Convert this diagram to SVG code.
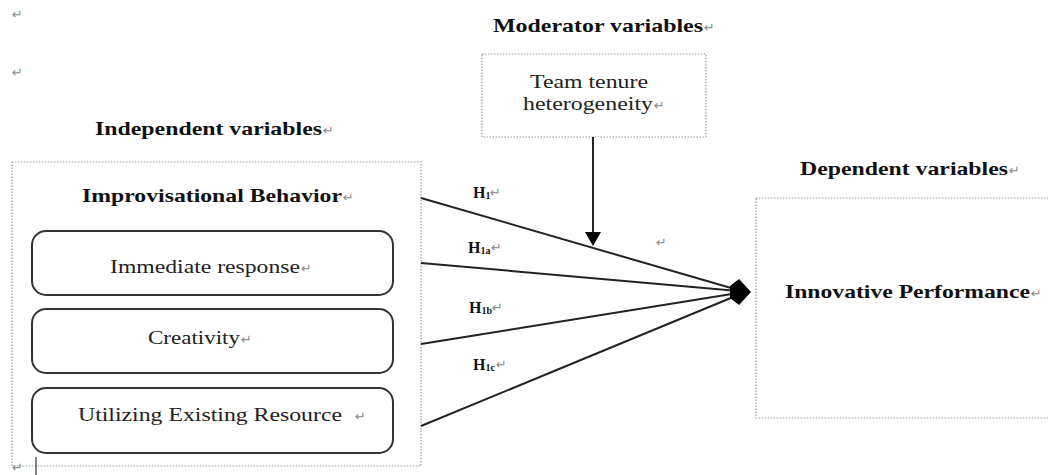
<svg xmlns="http://www.w3.org/2000/svg" width="1048" height="475" viewBox="0 0 1048 475">
<style>
.bg{fill:#fff}
.dot{fill:none;stroke:#9a9a9a;stroke-width:1.2;stroke-dasharray:1.5 1.5}
.rbox{fill:#fff;stroke:#333;stroke-width:2}
.hd{font-family:"Liberation Serif",serif;font-weight:bold;font-size:19px;fill:#111}
.tx{font-family:"Liberation Serif",serif;font-size:19px;fill:#222}
.hl{font-family:"Liberation Serif",serif;font-weight:bold;font-size:16px;fill:#111}
.sb{font-size:10px}
.pm{font-family:"DejaVu Sans",sans-serif;font-size:13px;fill:#888}
.ln{stroke:#222;stroke-width:2;fill:none}
</style>
<rect class="bg" x="0" y="0" width="1048" height="475"/>
<text class="pm" x="12" y="19">↵</text>
<text class="pm" x="12" y="77">↵</text>

<g id="independent">
<text class="hd" x="95" y="135" textLength="227" lengthAdjust="spacingAndGlyphs">Independent variables</text>
<text class="pm" x="323" y="135">↵</text>
<rect class="dot" x="12" y="162" width="409" height="304"/>
<text class="hd" x="82" y="202" textLength="260" lengthAdjust="spacingAndGlyphs">Improvisational Behavior</text>
<text class="pm" x="343" y="202">↵</text>
</g>
<g id="immediate">
<rect class="rbox" x="32" y="231" width="361" height="64" rx="14"/>
<text class="tx" x="110" y="273" textLength="190" lengthAdjust="spacingAndGlyphs">Immediate response</text>
<text class="pm" x="301" y="273">↵</text>
</g>
<g id="creativity">
<rect class="rbox" x="32" y="309" width="361" height="64" rx="14"/>
<text class="tx" x="148" y="344" textLength="92" lengthAdjust="spacingAndGlyphs">Creativity</text>
<text class="pm" x="241" y="344">↵</text>
</g>
<g id="utilizing">
<rect class="rbox" x="32" y="388" width="361" height="65" rx="14"/>
<text class="tx" x="78" y="421" textLength="264" lengthAdjust="spacingAndGlyphs">Utilizing Existing Resource</text>
<text class="pm" x="355" y="421">↵</text>
</g>

<g id="moderator">
<text class="hd" x="493" y="32" textLength="210" lengthAdjust="spacingAndGlyphs">Moderator variables</text>
<text class="pm" x="704" y="32">↵</text>
<rect class="dot" x="482" y="54" width="224" height="83"/>
<text class="tx" x="530" y="88" textLength="118" lengthAdjust="spacingAndGlyphs">Team tenure</text>
<text class="tx" x="523" y="110" textLength="130" lengthAdjust="spacingAndGlyphs">heterogeneity</text>
<text class="pm" x="654" y="110">↵</text>
</g>

<g id="dependent">
<text class="hd" x="800" y="175" textLength="208" lengthAdjust="spacingAndGlyphs">Dependent variables</text>
<text class="pm" x="1009" y="175">↵</text>
<rect class="dot" x="756" y="198" width="300" height="220"/>
<text class="hd" x="785" y="298" textLength="245" lengthAdjust="spacingAndGlyphs">Innovative Performance</text>
<text class="pm" x="1031" y="298">↵</text>
</g>

<g id="connectors">
<line class="ln" x1="421" y1="198" x2="738" y2="290"/>
<line class="ln" x1="421" y1="263" x2="738" y2="291"/>
<line class="ln" x1="421" y1="344" x2="738" y2="293"/>
<line class="ln" x1="421" y1="426" x2="738" y2="295"/>
<polygon points="739,279 751,292 739,305 730,298 730,286" fill="#000"/>
<line class="ln" x1="593" y1="137" x2="593" y2="234"/>
<polygon points="585,232 601,232 593,246" fill="#000"/>
<text class="hl" x="473" y="198">H<tspan class="sb" dy="1">1</tspan></text>
<text class="pm" x="490" y="197">↵</text>
<text class="hl" x="468" y="253">H<tspan class="sb" dy="1">1a</tspan></text>
<text class="pm" x="491" y="252">↵</text>
<text class="hl" x="469" y="313">H<tspan class="sb" dy="1">1b</tspan></text>
<text class="pm" x="492" y="312">↵</text>
<text class="hl" x="473" y="370">H<tspan class="sb" dy="1">1c</tspan></text>
<text class="pm" x="496" y="369">↵</text>
<text class="pm" x="656" y="247">↵</text>
</g>
<text class="pm" x="12" y="472" font-size="12">↵</text>
<line x1="36" y1="457" x2="36" y2="475" stroke="#333" stroke-width="1.2"/>
</svg>
